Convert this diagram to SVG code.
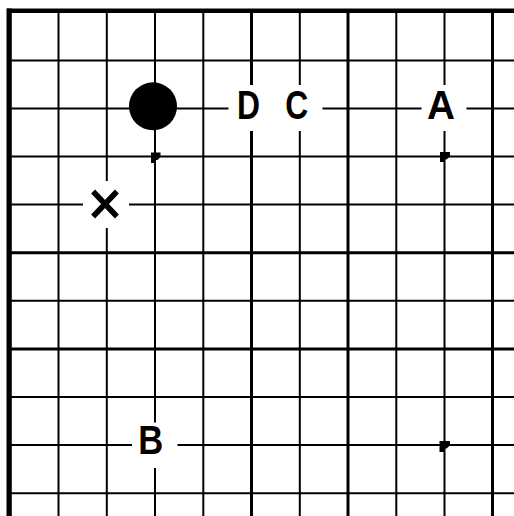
<svg xmlns="http://www.w3.org/2000/svg" width="514" height="516" viewBox="0 0 514 516">
<style>
.ln{stroke:#000;stroke-width:2;fill:none}
.lnb{stroke:#000;stroke-width:3;fill:none}
.bd{fill:#000}
.gap{fill:#fff}
.lbl{font-family:"Liberation Sans",Arial,sans-serif;font-weight:bold;font-size:40px;fill:#000;text-anchor:middle}
.star{fill:#000}
</style>
<rect width="514" height="516" fill="#fff"/>
<g id="board">
  <g id="vertical-lines">
    <line class="ln" x1="58.5" y1="10" x2="58.5" y2="516"/>
    <line class="ln" x1="106.8" y1="10" x2="106.8" y2="516"/>
    <line class="ln" x1="155" y1="10" x2="155" y2="516"/>
    <line class="ln" x1="203.3" y1="10" x2="203.3" y2="516"/>
    <line class="lnb" x1="251.5" y1="10" x2="251.5" y2="516"/>
    <line class="ln" x1="299.8" y1="10" x2="299.8" y2="516"/>
    <line class="lnb" x1="348" y1="10" x2="348" y2="516"/>
    <line class="ln" x1="396.3" y1="10" x2="396.3" y2="516"/>
    <line class="ln" x1="444.5" y1="10" x2="444.5" y2="516"/>
    <line class="lnb" x1="492.5" y1="10" x2="492.5" y2="516"/>
  </g>
  <g id="horizontal-lines">
    <line class="ln" x1="8" y1="60.4" x2="514" y2="60.4"/>
    <line class="ln" x1="8" y1="108.4" x2="514" y2="108.4"/>
    <line class="ln" x1="8" y1="156.5" x2="514" y2="156.5"/>
    <line class="ln" x1="8" y1="204.6" x2="514" y2="204.6"/>
    <line class="lnb" x1="8" y1="252.7" x2="514" y2="252.7"/>
    <line class="ln" x1="8" y1="300.8" x2="514" y2="300.8"/>
    <line class="lnb" x1="8" y1="348.9" x2="514" y2="348.9"/>
    <line class="ln" x1="8" y1="397" x2="514" y2="397"/>
    <line class="ln" x1="8" y1="445" x2="514" y2="445"/>
    <line class="ln" x1="8" y1="493.2" x2="514" y2="493.2"/>
  </g>
  <rect id="top-edge" class="bd" x="7" y="8.5" width="507" height="4.5"/>
  <rect id="left-edge" class="bd" x="6.5" y="8.5" width="5.3" height="507.5"/>
</g>
<g id="star-points">
  <polygon class="star" points="151,152.5 160.5,152.5 160.5,157 157.5,160 155.5,160 155.5,163 151,163"/>
  <polygon class="star" points="440,152 450,152 450,156.5 446.5,159.5 444.5,159.5 444.5,162 440,162"/>
  <polygon class="star" points="439.5,441 450,441 450,445.5 446.5,448.5 444.5,448.5 444.5,452 439.5,452"/>
</g>
<g id="stone-black">
  <circle cx="153" cy="106.3" r="24" fill="#000"/>
</g>
<g id="label-D">
  <rect class="gap" x="228.5" y="85" width="48.5" height="46"/>
  <text class="lbl" x="248.4" y="119" textLength="23" lengthAdjust="spacingAndGlyphs">D</text>
</g>
<g id="label-C">
  <rect class="gap" x="276" y="85" width="46.5" height="46"/>
  <text class="lbl" x="296.7" y="119" textLength="23" lengthAdjust="spacingAndGlyphs">C</text>
</g>
<g id="label-A">
  <rect class="gap" x="421.5" y="85" width="45" height="46"/>
  <text class="lbl" x="441" y="119" textLength="28" lengthAdjust="spacingAndGlyphs">A</text>
</g>
<g id="label-B">
  <rect class="gap" x="132" y="422.5" width="45.5" height="45.5"/>
  <text class="lbl" x="150.8" y="454" textLength="25" lengthAdjust="spacingAndGlyphs">B</text>
</g>
<g id="mark-x">
  <rect class="gap" x="83" y="181" width="46" height="47"/>
  <path d="M95 193.5 L115 214.5 M115 193.5 L95 214.5" stroke="#000" stroke-width="5.5" stroke-linecap="square" fill="none"/>
</g>
</svg>
